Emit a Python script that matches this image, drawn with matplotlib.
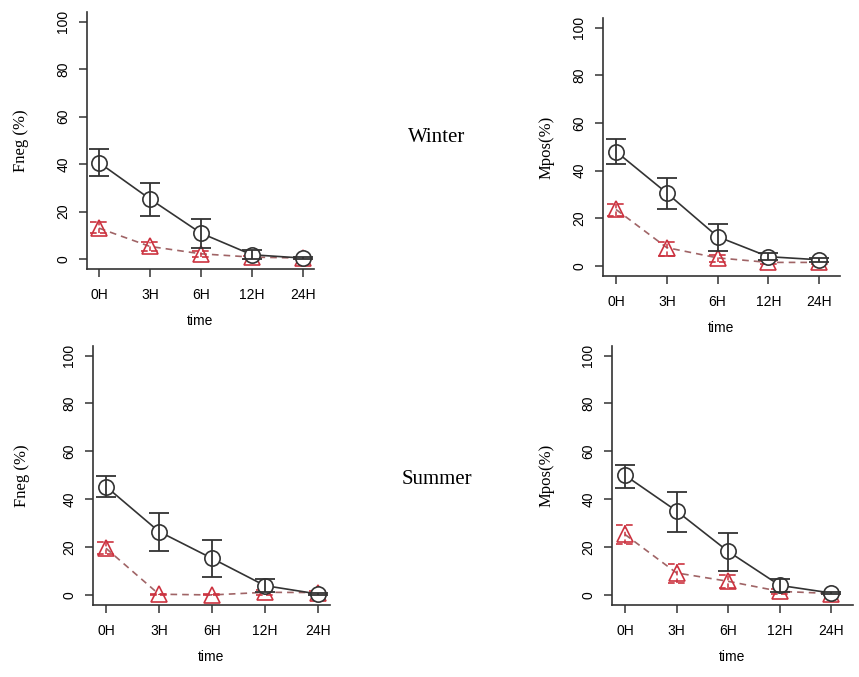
import matplotlib
matplotlib.use("Agg")
import matplotlib.pyplot as plt

times = ["0H", "3H", "6H", "12H", "24H"]

# Winter Fneg
wf_mean = [40.6, 25.3, 10.9, 1.8, 0.4]
wf_lo = [35.0, 18.2, 4.6, 0.0, 0.0]
wf_hi = [46.2, 31.8, 16.8, 3.6, 0.8]
wf_r_mean = [13.0, 5.3, 2.2, 0.8, 0.4]
wf_r_lo = [10.9, 3.2, 0.8, 0.2, 0.0]
wf_r_hi = [15.5, 7.1, 3.2, 1.4, 0.8]

# Winter Mpos
wm_mean = [48.0, 30.6, 12.3, 3.9, 2.6]
wm_lo = [42.9, 23.8, 6.3, 2.5, 1.8]
wm_hi = [53.1, 36.8, 17.8, 5.3, 3.4]
wm_r_mean = [23.7, 7.7, 3.4, 1.5, 1.5]
wm_r_lo = [20.9, 4.3, 1.8, 0.8, 0.8]
wm_r_hi = [26.2, 9.9, 4.6, 2.2, 2.2]

# Summer Fneg
sf_mean = [45.3, 26.5, 15.3, 3.9, 0.4]
sf_lo = [40.9, 18.4, 7.3, 1.1, 0.0]
sf_hi = [49.8, 34.2, 22.9, 6.6, 0.8]
sf_r_mean = [19.5, 0.3, 0.0, 1.1, 1.0]
sf_r_lo = [17.0, 0.0, 0.0, 0.0, 0.2]
sf_r_hi = [22.3, 0.6, 0.2, 2.1, 1.8]

# Summer Mpos
sm_mean = [50.0, 35.1, 18.2, 4.0, 0.8]
sm_lo = [44.6, 26.5, 9.8, 1.3, 0.2]
sm_hi = [54.2, 43.2, 26.0, 6.7, 1.4]
sm_r_mean = [25.3, 9.2, 5.7, 1.5, 0.6]
sm_r_lo = [21.2, 5.0, 2.8, 0.4, 0.0]
sm_r_hi = [29.3, 13.1, 8.4, 2.6, 1.2]

W, H = 859, 677
fig = plt.figure(figsize=(W / 100, H / 100), dpi=100)

RED = "#cc3340"
LINE_RED = "#a06466"
DARK = "#333333"


def make_axes(left, right, bottom, top):
    return fig.add_axes([left / W, 1 - bottom / H, (right - left) / W, (bottom - top) / H])


def panel(ax, mean, lo, hi, rmean, rlo, rhi, ylabel, xlim, ylab_px, left_px, width_px):
    x = list(range(len(times)))
    # red dashed series
    ax.plot(x, rmean, ls=(0, (4, 3)), color=LINE_RED, lw=1.2, zorder=2)
    ax.vlines(x, rlo, rhi, colors=RED, lw=1.1, linestyles=(0, (3, 2)), zorder=3)
    cw = 0.17
    ax.hlines(rlo, [v - cw for v in x], [v + cw for v in x], colors=RED, lw=1.2,
              linestyles=(0, (4, 2)), zorder=3)
    ax.hlines(rhi, [v - cw for v in x], [v + cw for v in x], colors=RED, lw=1.2,
              linestyles=(0, (4, 2)), zorder=3)
    ax.plot(x, rmean, ls="none", marker="^", ms=12, mfc="none", mec=RED, mew=1.2, zorder=4)

    # black series
    ax.plot(x, mean, "-", color=DARK, lw=1.2, zorder=5)
    ax.plot(x, mean, ls="none", marker="o", ms=11, mfc="white", mec=DARK, mew=1.2, zorder=6)
    ax.errorbar(x, mean, yerr=[[m - l for m, l in zip(mean, lo)], [h - m for m, h in zip(mean, hi)]],
                fmt="none", ecolor=DARK, elinewidth=1.3, capsize=7, capthick=1.3, zorder=7)

    ax.set_xlim(*xlim)
    ax.set_ylim(-4.2, 104)
    ax.set_xticks(x)
    ax.set_xticklabels(times)
    ax.set_yticks([0, 20, 40, 60, 80, 100])
    ax.set_yticklabels(["0", "20", "40", "60", "80", "100"], rotation=90, va="center")
    for s in ["top", "right"]:
        ax.spines[s].set_visible(False)
    for s in ["left", "bottom"]:
        ax.spines[s].set_color(DARK)
        ax.spines[s].set_linewidth(1.2)
    ax.tick_params(axis="both", length=6, width=1.1, color=DARK, labelsize=10,
                   labelfontfamily="Liberation Sans")
    ax.tick_params(axis="y", pad=6)
    ax.tick_params(axis="x", pad=8)
    ax.set_xlabel("time", fontsize=10, family="Liberation Sans", labelpad=8)
    ax.set_ylabel(ylabel, fontsize=12, family="Liberation Serif")
    # label anchor is its right edge; shift so its centre sits at ylab_px
    ax.yaxis.set_label_coords((ylab_px + 7 - left_px) / width_px, 0.5)


ax1 = make_axes(87, 314, 269, 12)
panel(ax1, wf_mean, wf_lo, wf_hi, wf_r_mean, wf_r_lo, wf_r_hi, "Fneg (%)", (-0.235, 4.22), 22, 87, 227)
ax2 = make_axes(603, 840, 276, 18)
panel(ax2, wm_mean, wm_lo, wm_hi, wm_r_mean, wm_r_lo, wm_r_hi, "Mpos(%)", (-0.256, 4.41), 548, 603, 237)
ax3 = make_axes(93, 330, 605, 346)
panel(ax3, sf_mean, sf_lo, sf_hi, sf_r_mean, sf_r_lo, sf_r_hi, "Fneg (%)", (-0.245, 4.23), 23, 93, 237)
ax4 = make_axes(612, 853, 605, 346)
panel(ax4, sm_mean, sm_lo, sm_hi, sm_r_mean, sm_r_lo, sm_r_hi, "Mpos(%)", (-0.25, 4.42), 548, 612, 241)

fig.text(437 / W, 1 - 137 / H, "Winter", fontsize=15, family="Liberation Serif", ha="center", va="center")
fig.text(437 / W, 1 - 480 / H, "Summer", fontsize=15, family="Liberation Serif", ha="center", va="center")

fig.savefig("out.png", dpi=100, facecolor="white")
